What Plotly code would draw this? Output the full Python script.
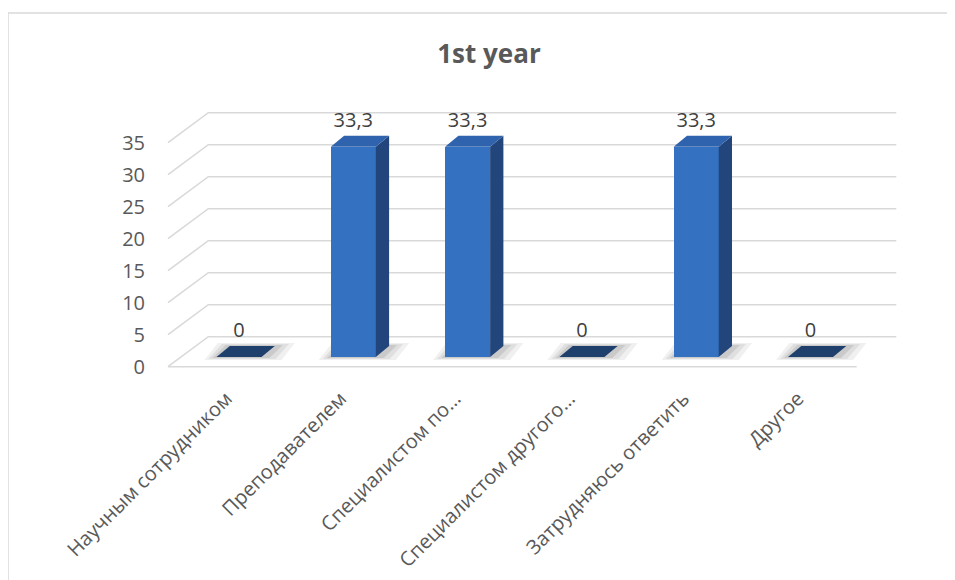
import plotly.graph_objects as go

# ---------------- data ----------------
categories = ["Научным сотрудником", "Преподавателем", "Специалистом по…",
              "Специалистом другого…", "Затрудняюсь ответить", "Другое"]
values = [0, 33.3, 33.3, 0, 33.3, 0]
y_ticks = [0, 5, 10, 15, 20, 25, 30, 35]
title_text = "1st year"

# ---------------- layout calibration (page pixels) ----------------
PAGE_W, PAGE_H = 955, 580
OFF = 8                                 # default body margin of the html page
W, H = PAGE_W - OFF, PAGE_H - OFF       # figure size
L, R, T, B = 160, 900, 95, 372          # plot area (page px)
PX_X = 114.3                            # px per category
A_Y0, A_PX_Y, A_X0 = 366.7, 6.4, 226.3  # front (floor edge) plane
F_Y0, F_PX_Y, F_X0 = 357.0, 6.315, 239.0  # bar front-face plane
FLOOR_LEFT, FLOOR_RIGHT, WALL_RIGHT = 168.0, 856.7, 896.3
BACK_DX, BACK_DY = 40.3, 30.0
BAR_W_PX, DEPTH_DX, DEPTH_DY = 45.0, 13.3, 11.0

FONT = "Open Sans"
TXT = "#595959"
GRID = "#d9d9d9"

def ax_x(px):  # page px -> plane A x
    return (px - A_X0) / PX_X

def ay(pxdy):  # px offset -> plane A units
    return pxdy / A_PX_Y

def f2a_x(xf):  # bar-plane x -> plane A x
    return xf + (F_X0 - A_X0) / PX_X

def f2a_y(yf):  # bar-plane y -> plane A y
    return (A_Y0 - (F_Y0 - yf * F_PX_Y)) / A_PX_Y

fig = go.Figure()

# gridlines: front-left slant + back wall
gx, gy = [], []
for v in y_ticks:
    gx += [ax_x(FLOOR_LEFT), ax_x(FLOOR_LEFT + BACK_DX), ax_x(WALL_RIGHT), None]
    gy += [v, v + ay(BACK_DY), v + ay(BACK_DY), None]
gx += [ax_x(FLOOR_LEFT), ax_x(FLOOR_RIGHT)]
gy += [0, 0]
fig.add_trace(go.Scatter(x=gx, y=gy, mode="lines", line=dict(color=GRID, width=1.6),
                         hoverinfo="skip", showlegend=False, xaxis="x", yaxis="y"))

hw = BAR_W_PX / PX_X / 2
ddx = DEPTH_DX / PX_X
ddy = DEPTH_DY / F_PX_Y
xs = list(range(len(categories)))

# soft shadows under the bars (on base axes, so they stay beneath the bars)
for grow_l, grow_r, grow_v, op in [(12, 20, 3, 0.09), (8, 14, 2, 0.11), (4, 8, 1, 0.15)]:
    for i in xs:
        gl, gr, gv = grow_l / PX_X, grow_r / PX_X, grow_v / F_PX_Y
        px_ = [i - hw - gl, i + hw + gr, i + hw + ddx + gr, i - hw + ddx - gl, i - hw - gl]
        py_ = [-gv, -gv, ddy + gv, ddy + gv, -gv]
        fig.add_trace(go.Scatter(
            x=[f2a_x(p) for p in px_], y=[f2a_y(p) for p in py_],
            fill="toself", fillcolor=f"rgba(90,90,90,{op})", line=dict(width=0),
            mode="lines", hoverinfo="skip", showlegend=False, xaxis="x", yaxis="y"))

# bars (front plane axes x2/y2)
fig.add_trace(go.Bar(x=xs, y=values, width=2 * hw, marker=dict(color="#3471c1", line=dict(width=0)),
                     hoverinfo="skip", showlegend=False, xaxis="x2", yaxis="y2"))

for i, v in zip(xs, values):
    if v > 0:
        fig.add_trace(go.Scatter(
            x=[i + hw, i + hw + ddx, i + hw + ddx, i + hw, i + hw],
            y=[0, ddy, v + ddy, v, 0],
            fill="toself", fillcolor="#22467c", line=dict(width=0), mode="lines",
            hoverinfo="skip", showlegend=False, xaxis="x2", yaxis="y2"))
    top_col = "#2f63ad" if v > 0 else "#1f3f6d"
    fig.add_trace(go.Scatter(
        x=[i - hw, i + hw, i + hw + ddx, i - hw + ddx, i - hw],
        y=[v, v, v + ddy, v + ddy, v],
        fill="toself", fillcolor=top_col, line=dict(width=0), mode="lines",
        hoverinfo="skip", showlegend=False, xaxis="x2", yaxis="y2"))

# data labels
fig.add_trace(go.Scatter(
    x=xs, y=[v + 25.0 / F_PX_Y for v in values],
    text=[f"{v:g}".replace(".", ",") for v in values],
    mode="text", textposition="middle center",
    textfont=dict(family=FONT, size=20, color="#404040"),
    cliponaxis=False, hoverinfo="skip", showlegend=False, xaxis="x2", yaxis="y2"))

# chart border (paper coords)
def px2paper_x(px):
    return (px - L) / (R - L)

def px2paper_y(py):
    return (B - py) / (B - T)

fig.add_shape(type="rect", xref="paper", yref="paper",
              x0=px2paper_x(8), x1=px2paper_x(970), y0=px2paper_y(600), y1=px2paper_y(13),
              line=dict(color="#d9d9d9", width=1.5), fillcolor="rgba(0,0,0,0)", layer="below")

fig.update_layout(
    width=W, height=H,
    margin=dict(l=L - OFF, r=PAGE_W - R, t=T - OFF, b=PAGE_H - B, autoexpand=False),
    paper_bgcolor="white", plot_bgcolor="rgba(0,0,0,0)",
    showlegend=False,
    title=dict(text=title_text, xref="container", yref="container",
               x=(489 - OFF) / W, y=1 - (54 - OFF) / H, xanchor="center", yanchor="middle",
               font=dict(family=FONT, size=26, color=TXT, weight="bold")),
    xaxis=dict(range=[ax_x(L), ax_x(R)], tickvals=xs, ticktext=categories, tickangle=-45,
               showgrid=False, zeroline=False, showline=False, ticks="",
               tickfont=dict(family=FONT, size=20, color=TXT), automargin=False,
               ticklabelstandoff=10, fixedrange=True),
    yaxis=dict(range=[(A_Y0 - B) / A_PX_Y, (A_Y0 - T) / A_PX_Y], tickvals=y_ticks,
               showgrid=False, zeroline=False, showline=False, ticks="",
               tickfont=dict(family=FONT, size=20, color=TXT), automargin=False,
               ticklabelstandoff=14, fixedrange=True),
    xaxis2=dict(range=[(L - F_X0) / PX_X, (R - F_X0) / PX_X], overlaying="x", visible=False,
                fixedrange=True),
    yaxis2=dict(range=[(F_Y0 - B) / F_PX_Y, (F_Y0 - T) / F_PX_Y], overlaying="y", visible=False,
                fixedrange=True),
    bargap=0,
)

fig.write_html("out.html")
